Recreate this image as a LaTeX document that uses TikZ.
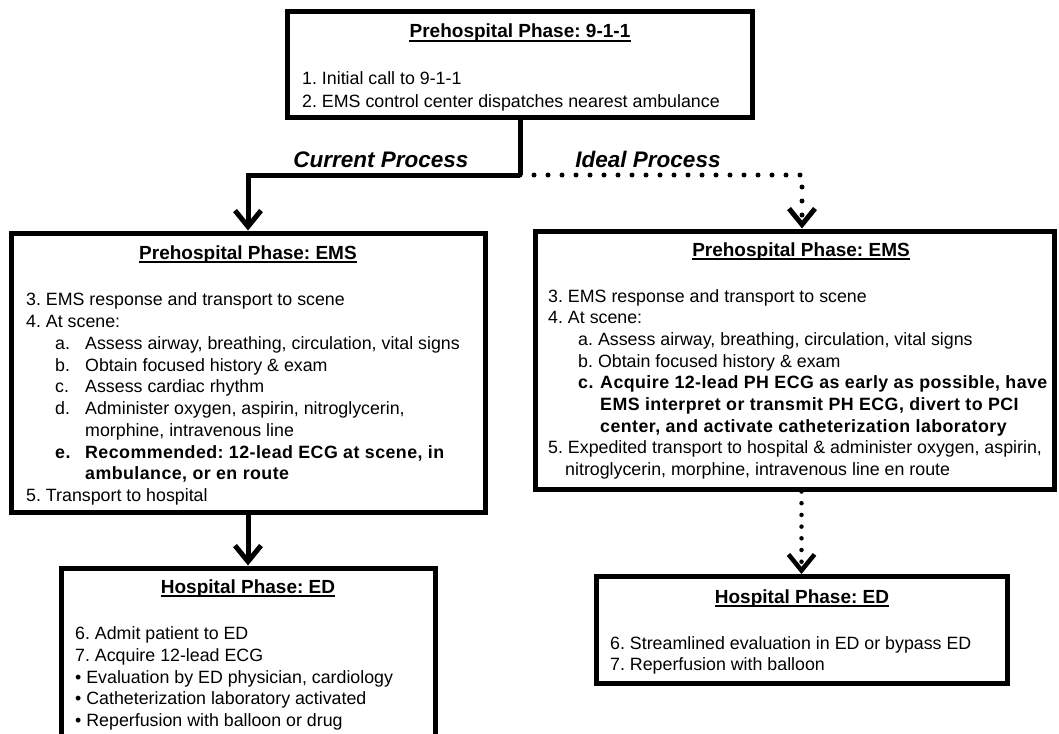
\documentclass[tikz,border=0pt]{standalone}
\usepackage{fontspec}
\setmainfont{Liberation Sans}
\newfontfamily\spacedbold[LetterSpace=2.5]{Liberation Sans Bold}
\usetikzlibrary{arrows.meta}
\frenchspacing
\tikzset{
  txt/.style={anchor=base west, inner sep=0pt, font=\fontsize{17.8}{21.6}\selectfont},
  bld/.style={anchor=base west, inner sep=0pt, font=\fontsize{17.8}{21.6}\selectfont\spacedbold},
  ttl/.style={anchor=base, inner sep=0pt, font=\fontsize{19}{23}\selectfont\bfseries},
  proc/.style={anchor=base, inner sep=0pt, font=\fontsize{22.5}{27}\selectfont\bfseries\itshape},
  box/.style={draw, line width=5pt, inner sep=0pt},
  conn/.style={line width=5pt, -{Straight Barb[length=16pt,width=26pt]}},
  dotconn/.style={line width=5pt, line cap=round, dash pattern=on 0pt off 14pt, -{Straight Barb[length=16pt,width=26pt]}},
  dotconnb/.style={line width=4.5pt, line cap=round, dash pattern=on 0pt off 11.7pt, -{Straight Barb[length=16pt,width=26pt]}},
  ul/.style={line width=1.5pt}
}
\begin{document}
\begin{tikzpicture}[x=1pt,y=-1pt]
\clip (0,0) rectangle (1059,733);
\fill[white] (0,0) rectangle (1059,733);

% boxes
\node[box, minimum width=464.5pt, minimum height=106pt] (p911) at (520,65) {};
\node[box, minimum width=474pt, minimum height=279pt] (lems) at (248,372.5) {};
\node[box, minimum width=519pt, minimum height=258pt] (rems) at (794.5,360) {};
\node[box, minimum width=374pt, minimum height=200pt] (lhosp) at (248,668) {};
\node[box, minimum width=411pt, minimum height=107pt] (rhosp) at (801.5,630) {};

% top box text
\node[ttl] (t911) at (520,38) {Prehospital Phase: 9-1-1};
\draw[ul] ([yshift=-2.8pt]t911.base west) -- ([yshift=-2.8pt]t911.base east);
\node[txt] (a1) at (302,85) {1. Initial call to 9-1-1};
\node[txt] (a2) at (302,107) {2. EMS control center dispatches nearest ambulance};

% process labels
\node[proc] (cur) at (381,167) {Current Process};
\node[proc] (ide) at (648,167) {Ideal Process};

% left EMS box
\node[ttl] (tlems) at (248,259) {Prehospital Phase: EMS};
\draw[ul] ([yshift=-2.8pt]tlems.base west) -- ([yshift=-2.8pt]tlems.base east);
\node[txt] (l3) at (26,305) {3. EMS response and transport to scene};
\node[txt] (l4) at (26,327) {4. At scene:};
\node[txt] (lal) at (55,349) {a.};
\node[txt] (la) at (85,349) {Assess airway, breathing, circulation, vital signs};
\node[txt] (lbl) at (55,371) {b.};
\node[txt] (lb) at (85,371) {Obtain focused history \& exam};
\node[txt] (lcl) at (55,392) {c.};
\node[txt] (lc) at (85,392) {Assess cardiac rhythm};
\node[txt] (ldl) at (55,414) {d.};
\node[txt] (ld) at (85,414) {Administer oxygen, aspirin, nitroglycerin,};
\node[txt] (ld2) at (85,436) {morphine, intravenous line};
\node[bld] (lel) at (55,458) {e.};
\node[bld] (le) at (85,458) {Recommended: 12-lead ECG at scene, in};
\node[bld] (le2) at (85,479) {ambulance, or en route};
\node[txt] (l5) at (26,501) {5. Transport to hospital};

% right EMS box
\node[ttl] (trems) at (801,256) {Prehospital Phase: EMS};
\draw[ul] ([yshift=-2.8pt]trems.base west) -- ([yshift=-2.8pt]trems.base east);
\node[txt] (r3) at (548,302) {3. EMS response and transport to scene};
\node[txt] (r4) at (548,323) {4. At scene:};
\node[txt] (ra) at (578,345) {a.\hspace{5pt}Assess airway, breathing, circulation, vital signs};
\node[txt] (rb) at (578,367) {b.\hspace{5pt}Obtain focused history \& exam};
\node[bld] (rcl) at (578,388) {c.};
\node[bld] (rc) at (600,388) {Acquire 12-lead PH ECG as early as possible, have};
\node[bld] (rc2) at (600,410) {EMS interpret or transmit PH ECG, divert to PCI};
\node[bld] (rc3) at (600,432) {center, and activate catheterization laboratory};
\node[txt] (r5) at (548,453) {5. Expedited transport to hospital \& administer oxygen, aspirin,};
\node[txt] (r52) at (565,475) {nitroglycerin, morphine, intravenous line en route};

% left hospital box
\node[ttl] (tlh) at (248,593) {Hospital Phase: ED};
\draw[ul] ([yshift=-2.8pt]tlh.base west) -- ([yshift=-2.8pt]tlh.base east);
\node[txt] (h6) at (75,639) {6. Admit patient to ED};
\node[txt] (h7) at (75,661) {7. Acquire 12-lead ECG};
\node[txt] (hb1) at (75,683) {\textbullet\ Evaluation by ED physician, cardiology};
\node[txt] (hb2) at (75,704) {\textbullet\ Catheterization laboratory activated};
\node[txt] (hb3) at (75,726) {\textbullet\ Reperfusion with balloon or drug};

% right hospital box
\node[ttl] (trh) at (802,603) {Hospital Phase: ED};
\draw[ul] ([yshift=-2.8pt]trh.base west) -- ([yshift=-2.8pt]trh.base east);
\node[txt] (g6) at (610,649) {6. Streamlined evaluation in ED or bypass ED};
\node[txt] (g7) at (610,670) {7. Reperfusion with balloon};

% connectors
\coordinate (split) at (520,175);
\coordinate (rcorner) at (802,175);
\draw[line width=5pt] (p911.south) -- (split);
\draw[conn] (split) -| (lems.north);
\draw[dotconn] (split) -- (rcorner) -- (rcorner |- rems.north);
\draw[conn] (lems.south) -- (lhosp.north);
\draw[dotconnb] (rems.south -| rhosp.north) -- (rhosp.north);
\end{tikzpicture}
\end{document}
